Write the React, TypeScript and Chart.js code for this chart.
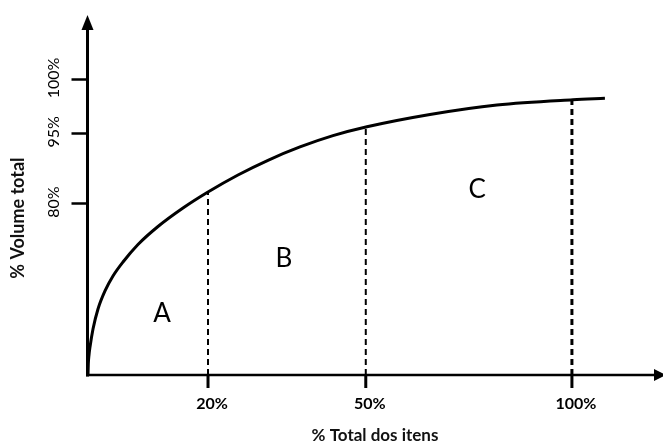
import { useEffect, useRef } from 'react';
import { Chart, registerables } from 'chart.js';

Chart.register(...registerables);

// Schematic ABC curve (diagram units: x 0..118, y 0..121)
const curveX = [0, 0.062, 0.207, 0.413, 1.033, 2.066, 3.512, 5.165, 7.231, 10.331, 14.463, 19.628, 24.793, 30.992, 37.19, 43.802, 50.62, 57.645, 70.661, 84.504, 100.207, 106.818];
const curveY = [0, 3.716, 6.757, 9.459, 15.541, 22.297, 28.378, 33.446, 38.176, 44.088, 50.169, 56.419, 61.824, 67.568, 72.534, 77.027, 80.845, 83.851, 88.007, 91.216, 92.973, 93.446];

const xTickValues = [24.8, 57.4, 100];
const xTickLabels = ['20%', '50%', '100%'];
const dividerTops = [61.8, 83.75, 92.95];
const dividerWidths = [2, 2, 3];

const yTickValues = [58.1, 81.8, 100];
const yTickLabels = ['80%', '95%', '100%'];

const regionLabels = ['A', 'B', 'C'];
const regionX = [15.3, 40.5, 80.4];
const regionY = [20.9, 39.2, 62.5];

const xTitle = '% Total dos itens';
const yTitle = '% Volume total';

const X_MAX = 118.2;
const Y_MAX = 121.6;

const axesPlugin = {
  id: 'abcAxes',
  afterDatasetsDraw(chart: any) {
    const { ctx, chartArea, scales } = chart;
    const xs = scales.x;
    const ys = scales.y;
    const x0 = xs.getPixelForValue(0) - 0.5;
    const y0 = ys.getPixelForValue(0);
    ctx.save();
    ctx.strokeStyle = '#000';
    ctx.fillStyle = '#000';
    ctx.lineCap = 'butt';

    // y axis line
    ctx.lineWidth = 3;
    ctx.beginPath();
    ctx.moveTo(x0, y0 + 1.5);
    ctx.lineTo(x0, chartArea.top + 14);
    ctx.stroke();
    // y arrow
    ctx.beginPath();
    ctx.moveTo(x0, chartArea.top);
    ctx.lineTo(x0 - 6, chartArea.top + 15);
    ctx.lineTo(x0 + 6, chartArea.top + 15);
    ctx.closePath();
    ctx.fill();

    // x axis line
    ctx.lineWidth = 2.5;
    ctx.beginPath();
    ctx.moveTo(x0 - 1.5, y0);
    ctx.lineTo(chartArea.right - 4, y0);
    ctx.stroke();
    // x arrow
    ctx.beginPath();
    ctx.moveTo(chartArea.right + 6, y0);
    ctx.lineTo(chartArea.right - 6, y0 - 6);
    ctx.lineTo(chartArea.right - 6, y0 + 6);
    ctx.closePath();
    ctx.fill();

    // y ticks
    ctx.lineWidth = 2.5;
    yTickValues.forEach((v) => {
      const py = Math.round(ys.getPixelForValue(v)) + 0.5;
      ctx.beginPath();
      ctx.moveTo(x0 - 16, py);
      ctx.lineTo(x0, py);
      ctx.stroke();
    });
    // x ticks
    ctx.lineWidth = 3;
    xTickValues.forEach((v) => {
      const px = xs.getPixelForValue(v);
      ctx.beginPath();
      ctx.moveTo(px, y0);
      ctx.lineTo(px, y0 + 13);
      ctx.stroke();
    });

    // x tick labels
    ctx.font = 'bold 16px Lato';
    ctx.textAlign = 'center';
    ctx.textBaseline = 'middle';
    xTickValues.forEach((v, i) => {
      ctx.fillText(xTickLabels[i], xs.getPixelForValue(v) + 4, y0 + 29);
    });

    // y tick labels (rotated)
    ctx.font = '16px Lato';
    yTickValues.forEach((v, i) => {
      ctx.save();
      ctx.translate(x0 - 34, ys.getPixelForValue(v) - 1);
      ctx.rotate(-Math.PI / 2);
      ctx.fillText(yTickLabels[i], 0, 0);
      ctx.restore();
    });

    // region labels
    ctx.font = '26px Lato';
    regionLabels.forEach((t, i) => {
      ctx.fillText(t, xs.getPixelForValue(regionX[i]), ys.getPixelForValue(regionY[i]));
    });

    // titles
    ctx.fillStyle = '#111';
    ctx.font = 'bold 17px Lato';
    ctx.fillText(xTitle, (chartArea.left + chartArea.right) / 2 + 1, y0 + 61);
    ctx.save();
    ctx.translate(18, ys.getPixelForValue(53));
    ctx.rotate(-Math.PI / 2);
    ctx.font = 'bold 18px Lato';
    ctx.fillText(yTitle, 0, 0);
    ctx.restore();

    ctx.restore();
  },
};

export default function App() {
  const ref = useRef<HTMLCanvasElement | null>(null);

  useEffect(() => {
    document.body.style.margin = '0';
    if (!ref.current) return;
    const curve = curveX.map((x, i) => ({ x, y: curveY[i] }));
    const dividers = xTickValues.map((x, i) => ({
      data: [
        { x, y: 0 },
        { x, y: dividerTops[i] },
      ],
      borderColor: '#000',
      borderWidth: dividerWidths[i],
      borderDash: [6, 4],
      pointRadius: 0,
      showLine: true,
      fill: false,
    }));
    const chart = new Chart(ref.current, {
      type: 'scatter',
      data: {
        datasets: [
          {
            data: curve,
            borderColor: '#000',
            borderWidth: 3,
            pointRadius: 0,
            showLine: true,
            fill: false,
            cubicInterpolationMode: 'monotone',
          } as any,
          ...(dividers as any[]),
        ],
      },
      options: {
        responsive: false,
        animation: false,
        layout: { padding: { left: 88, right: 3, top: 15, bottom: 70 } },
        plugins: { legend: { display: false }, tooltip: { enabled: false } },
        scales: {
          x: { type: 'linear', min: 0, max: X_MAX, display: false },
          y: { type: 'linear', min: 0, max: Y_MAX, display: false },
        },
      },
      plugins: [axesPlugin],
    });
    return () => chart.destroy();
  }, []);

  return (
    <div style={{ width: 663, height: 445, background: '#fff' }}>
      <canvas ref={ref} width={663} height={445} />
    </div>
  );
}
